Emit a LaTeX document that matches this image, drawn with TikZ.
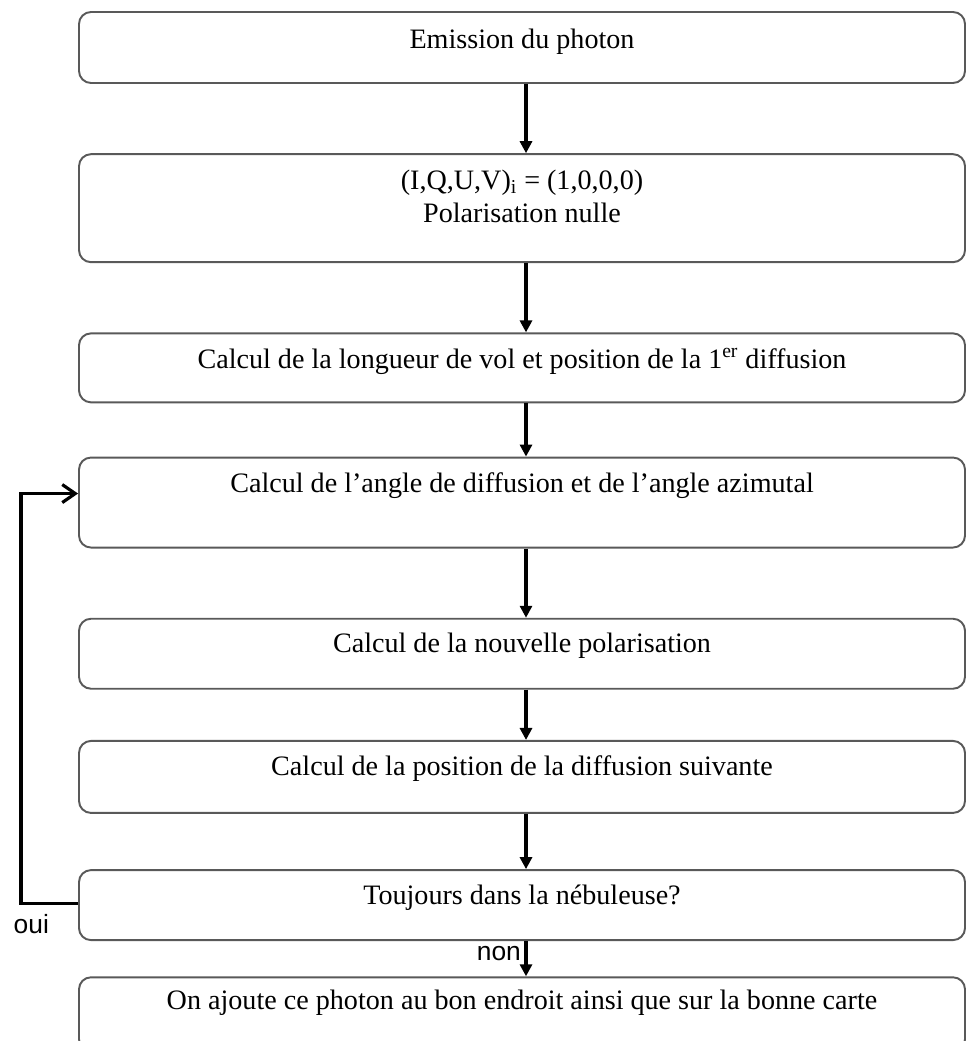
\documentclass[tikz,border=0pt]{standalone}
\usepackage{fontspec}
\setmainfont{Liberation Serif}
\newfontfamily\labfont{Liberation Sans}
\usetikzlibrary{positioning,arrows.meta}

\begin{document}
\begin{tikzpicture}[
    node distance=1.385cm,
    box/.style={rectangle, rounded corners=0.24cm, draw=black!65, line width=1.1pt, minimum width=17.72cm},
    txt/.style={font=\fontsize{16}{19}\selectfont, align=center, inner sep=0pt},
    flow/.style={-{Triangle[length=0.24cm, width=0.24cm]}, line width=1.8pt},
    back/.style={-{Straight Barb[length=0.26cm, width=0.36cm]}, line width=1.8pt},
    lab/.style={font=\labfont\fontsize{15}{18}\selectfont, inner sep=2pt}
]
    \useasboundingbox (0,0) rectangle (19.36,-20.82);
    \clip (0,0) rectangle (19.36,-20.82);

    % boites
    \node[box, minimum height=1.42cm] (emis) at (10.44,-0.95) {};
    \node[box, minimum height=2.16cm, below=of emis] (init) {};
    \node[box, minimum height=1.38cm, below=of init] (vol) {};
    \node[box, minimum height=1.80cm, below=1.065cm of vol] (angle) {};
    \node[box, minimum height=1.40cm, below=of angle] (polar) {};
    \node[box, minimum height=1.44cm, below=1.005cm of polar] (pos) {};
    \node[box, minimum height=1.40cm, below=1.105cm of pos] (tjrs) {};
    \node[box, minimum height=1.48cm, below=0.705cm of tjrs] (ajout) {};

    % textes
    \node[txt] (emisT) at ([yshift=-0.62cm]emis.north) {Emission du photon};
    \node[txt] (initT) at ([yshift=-0.86cm]init.north) {(I,Q,U,V)\textsubscript{i} = (1,0,0,0)\\Polarisation nulle};
    \node[txt] (volT) at ([yshift=-0.58cm]vol.north) {Calcul de la longueur de vol et position de la 1\textsuperscript{er} diffusion};
    \node[txt] (angleT) at ([yshift=-0.58cm]angle.north) {Calcul de l’angle de diffusion et de l’angle azimutal};
    \node[txt] (polarT) at ([yshift=-0.56cm]polar.north) {Calcul de la nouvelle polarisation};
    \node[txt] (posT) at ([yshift=-0.58cm]pos.north) {Calcul de la position de la diffusion suivante};
    \node[txt] (tjrsT) at ([yshift=-0.58cm]tjrs.north) {Toujours dans la nébuleuse?};
    \node[txt] (ajoutT) at ([yshift=-0.52cm]ajout.north) {On ajoute ce photon au bon endroit ainsi que sur la bonne carte};

    % fleches
    \draw[flow] ([xshift=0.08cm]emis.south) -- ([xshift=0.08cm]init.north);
    \draw[flow] ([xshift=0.08cm]init.south) -- ([xshift=0.08cm]vol.north);
    \draw[flow] ([xshift=0.08cm]vol.south) -- ([xshift=0.08cm]angle.north);
    \draw[flow] ([xshift=0.08cm]angle.south) -- ([xshift=0.08cm]polar.north);
    \draw[flow] ([xshift=0.08cm]polar.south) -- ([xshift=0.08cm]pos.north);
    \draw[flow] ([xshift=0.08cm]pos.south) -- ([xshift=0.08cm]tjrs.north);
    \draw[flow] ([xshift=0.08cm]tjrs.south) -- node[lab, left, pos=0.35] (non) {non} ([xshift=0.08cm]ajout.north);
    \draw[back] ([yshift=0.04cm]tjrs.west) -- node[lab, below, pos=0.82, yshift=-0.12cm] (oui) {oui} ++(-1.14,0) |- ([yshift=0.18cm]angle.west);
\end{tikzpicture}
\end{document}
